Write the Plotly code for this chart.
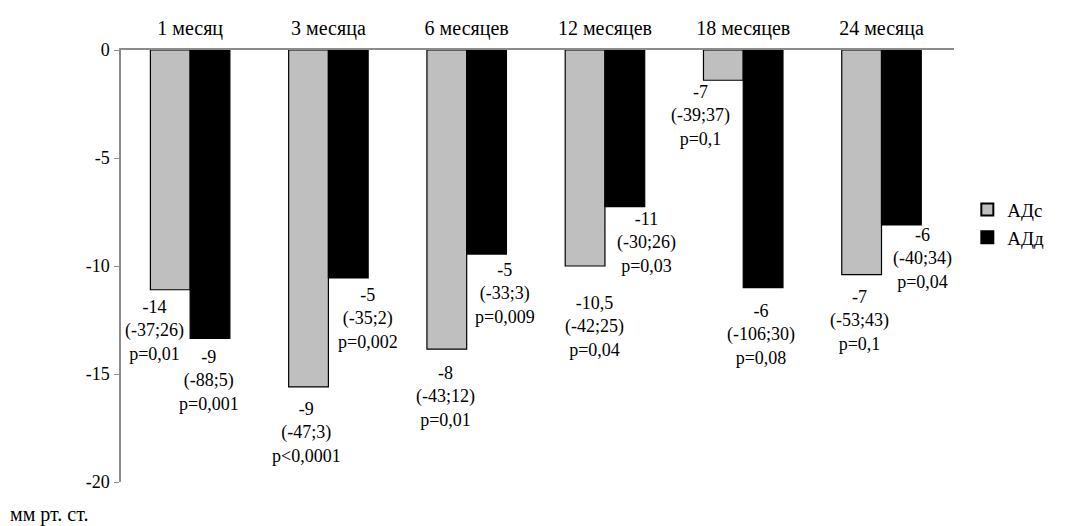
import plotly.graph_objects as go

# Periods of follow-up
categories = ["1 месяц", "3 месяца", "6 месяцев", "12 месяцев", "18 месяцев", "24 месяца"]

# Change in systolic (АДс) and diastolic (АДд) pressure, mm Hg
adc_values = [-11.1, -15.6, -13.85, -10.0, -1.4, -10.4]
add_values = [-13.35, -10.55, -9.45, -7.25, -11.0, -8.1]

# Median, (range) and p-value captions for each bar
adc_median = ["-14", "-9", "-8", "-10,5", "-7", "-7"]
adc_range = ["(-37;26)", "(-47;3)", "(-43;12)", "(-42;25)", "(-39;37)", "(-53;43)"]
adc_p = ["p=0,01", "p<0,0001", "p=0,01", "p=0,04", "p=0,1", "p=0,1"]

add_median = ["-9", "-5", "-5", "-11", "-6", "-6"]
add_range = ["(-88;5)", "(-35;2)", "(-33;3)", "(-30;26)", "(-106;30)", "(-40;34)"]
add_p = ["p=0,001", "p=0,002", "p=0,009", "p=0,03", "p=0,08", "p=0,04"]

y_ticks = [0, -5, -10, -15, -20]

# Caption placement: (horizontal shift in px, vertical centre in axis units)
adc_label_pos = [(-36, -12.97), (-22, -17.7), (-21, -16.03), (-10, -12.78), (-43, -3.04), (-22, -12.51)]
add_label_pos = [(19, -15.29), (40, -12.41), (38, -11.25), (42, -8.91), (18, -13.16), (41, -9.63)]

SERIF = "Liberation Serif"
GRAY = "#bfbfbf"
AXIS = "#8c8c8c"

fig = go.Figure()
fig.add_trace(go.Bar(
    x=categories, y=adc_values, name="АДс",
    marker=dict(color=GRAY, line=dict(color="black", width=1.2)),
))
fig.add_trace(go.Bar(
    x=categories, y=add_values, name="АДд",
    marker=dict(color="black", line=dict(color="black", width=1.2)),
))

label_font = dict(family=SERIF, size=18, color="black")
word_font = dict(family=SERIF, size=20, color="black")

annotations = []
for cat, med, rng, p, (dx, yc) in zip(categories, adc_median, adc_range, adc_p, adc_label_pos):
    annotations.append(dict(x=cat, y=yc, xref="x", yref="y", xshift=dx,
                            text=f"{med}<br>{rng}<br>{p}", showarrow=False,
                            align="center", font=label_font))
for cat, med, rng, p, (dx, yc) in zip(categories, add_median, add_range, add_p, add_label_pos):
    annotations.append(dict(x=cat, y=yc, xref="x", yref="y", xshift=dx,
                            text=f"{med}<br>{rng}<br>{p}", showarrow=False,
                            align="center", font=label_font))

# Unit caption below the value axis
annotations.append(dict(x=-0.1357, y=-0.075, xref="paper", yref="paper",
                        xanchor="left", yanchor="middle", text="мм рт. ст.",
                        showarrow=False, font=word_font))

fig.update_layout(
    width=1065, height=526,
    margin=dict(l=121, r=111, t=50, b=44, pad=0),
    paper_bgcolor="white", plot_bgcolor="white",
    barmode="group", bargap=0.425, bargroupgap=0,
    font=dict(family=SERIF, size=18, color="black"),
    showlegend=True,
    legend=dict(x=1.016, y=0.598, xanchor="left", yanchor="middle",
                font=dict(family=SERIF, size=19, color="black"),
                itemsizing="constant", tracegroupgap=0,
                bgcolor="rgba(0,0,0,0)"),
    annotations=annotations,
    xaxis=dict(side="top", showline=True, linecolor=AXIS, linewidth=1.5,
               ticks="", showgrid=False, tickfont=word_font,
               ticklabelstandoff=5),
    yaxis=dict(range=[-20, 0], tickvals=y_ticks, ticktext=[str(v) for v in y_ticks],
               showline=True, linecolor=AXIS, linewidth=1.5, ticks="outside",
               ticklen=5, tickcolor=AXIS, showgrid=False, zeroline=False,
               tickfont=label_font, ticklabelstandoff=1),
)

fig.write_html("out.html")
